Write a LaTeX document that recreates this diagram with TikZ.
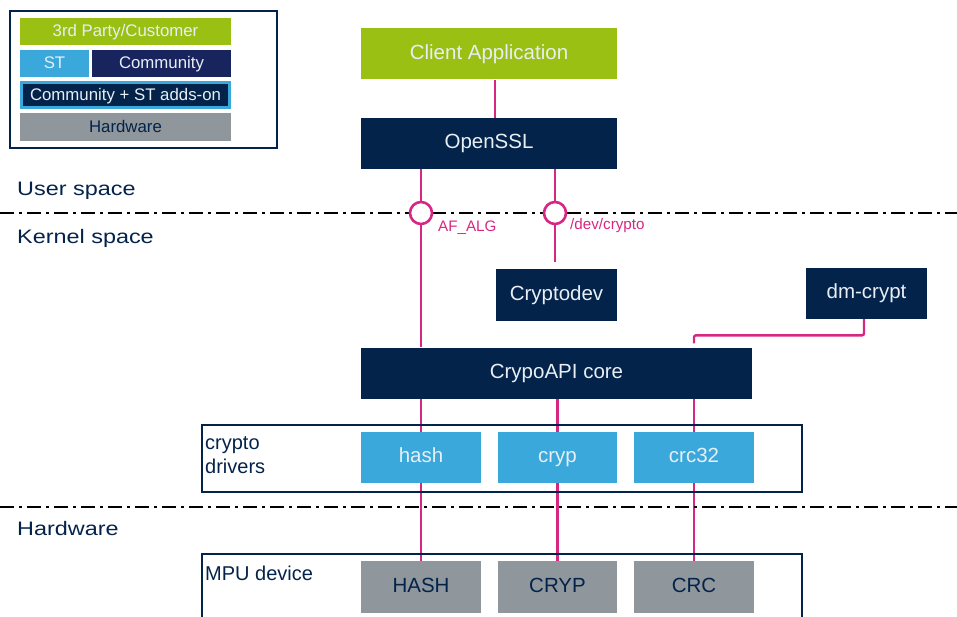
\documentclass[tikz,border=0pt]{standalone}
\usepackage{fontspec}
\setmainfont{Liberation Sans}
\newfontfamily\widesans[FakeStretch=1.2]{Liberation Sans}
\usetikzlibrary{backgrounds}
\definecolor{stnavy}{RGB}{3,35,75}
\definecolor{stcomm}{RGB}{24,36,94}
\definecolor{stgreen}{RGB}{155,192,20}
\definecolor{stblue}{RGB}{58,168,219}
\definecolor{stgrey}{RGB}{143,150,156}
\definecolor{stpink}{RGB}{214,40,130}
\definecolor{boxtext}{RGB}{232,238,244}
\newcommand{\fsz}[1]{\fontsize{#1}{#1}\selectfont}
\newcommand{\sepline}[1]{\draw[sep] (0,#1) --++ (957,0)}

\begin{document}
\begin{tikzpicture}[x=1pt, y=-1pt,
	blk/.style = {fill=stnavy, text=boxtext, inner sep=0pt, minimum height=51pt, text height=15pt, text depth=4.5pt, font=\fsz{20.5}},
	grn/.style = {blk, fill=stgreen},
	drv/.style = {blk, fill=stblue},
	hw/.style = {blk, fill=stgrey, text=stnavy, minimum height=52pt},
	leg/.style = {inner sep=0pt, minimum height=27pt, text height=12pt, text depth=1pt, text=boxtext, font=\fsz{16.8}},
	frame/.style = {draw=stnavy, line width=1.3pt},
	frmlbl/.style = {font=\fsz{20}, align=left, inner sep=0pt, anchor=north west, text=stnavy},
	link/.style = {draw=stpink, line width=2.4pt},
	port/.style = {circle, draw=stpink, line width=2.6pt, fill=white, minimum size=22pt, inner sep=0pt},
	portlbl/.style = {text=stpink, font=\fsz{15.2}, inner sep=0pt, anchor=west},
	zone/.style = {font=\widesans\fsz{19.5}, text=stnavy, inner sep=0pt, anchor=west},
	sep/.style = {line width=1.4pt, dash pattern=on 14pt off 5pt on 3pt off 5pt}]
\useasboundingbox (0,0) rectangle (957,617);
%Legend
	\draw[frame, line width=2pt] (10,11) rectangle (277,148);
	\node[leg, fill=stgreen, minimum width=211pt] (lthird) at (125.5,31.5) {3rd Party/Customer};
	\node[leg, fill=stblue, minimum width=69pt] (lst) at (54.5,63.5) {ST};
	\node[leg, fill=stcomm, minimum width=139pt] (lcomm) at (161.5,63.5) {Community};
	\node[leg, fill=stnavy, draw=stblue, line width=3pt, minimum width=208pt, minimum height=25pt] (ladds) at (125.5,95) {Community + ST adds-on};
	\node[leg, fill=stgrey, text=stnavy, minimum width=211pt, minimum height=28pt] (lhw) at (125.5,127) {Hardware};
%Zones
	\sepline{213};
	\sepline{507};
	\node[zone] at (17,191) {User space};
	\node[zone] at (17,238) {Kernel space};
	\node[zone] at (17,529) {Hardware};
%User side
	\node[grn, minimum width=256pt] (client) at (489,54) {Client Application};
	\node[blk, minimum width=256pt] (openssl) at (489,143.5) {OpenSSL};
%Kernel side
	\node[blk, minimum width=121pt] (cryptodev) at (556.5,295) {Cryptodev};
	\node[blk, minimum width=121pt] (dmcrypt) at (866.5,293.5) {dm-crypt};
	\node[blk, minimum width=391pt] (core) at (556.5,373) {CrypoAPI core};
%Drivers
	\draw[frame] (202,425) rectangle (802,492);
	\node[frmlbl] at (205,436) {crypto\\[4pt]drivers};
	\node[drv, minimum width=120pt] (hash) at (421,457.5) {hash};
	\node[drv, minimum width=119pt] (cryp) at (557.5,457.5) {cryp};
	\node[drv, minimum width=120pt] (crc) at (694,457.5) {crc32};
%Hardware
	\draw[frame] (202,630) |- (802,554) -- (802,630);
	\node[frmlbl] at (205,566) {MPU device};
	\node[hw, minimum width=120pt] (HASH) at (421,587) {HASH};
	\node[hw, minimum width=119pt] (CRYP) at (557.5,587) {CRYP};
	\node[hw, minimum width=120pt] (CRC) at (694,587) {CRC};
%Ports
	\node[port] (afalg) at (421,213) {};
	\node[port] (devcrypto) at (555,213) {};
	\node[portlbl] at (438,228) {AF\_ALG};
	\node[portlbl] at (570,226) {/dev/crypto};
%Links
	\begin{scope}[on background layer]
	\draw[link] ([xshift=6pt]client.south) -- ([xshift=6pt]openssl.north);
	\draw[link] (openssl.south -| afalg) -- (afalg) -- (core.north -| afalg);
	\draw[link] (openssl.south -| devcrypto) -- (devcrypto);
	\draw[link, shorten >=7pt] (devcrypto) -- (cryptodev.north -| devcrypto);
	\draw[link, rounded corners=2pt, shorten >=4pt] ([xshift=-2.5pt]dmcrypt.south) |- ([yshift=12pt]core.north -| crc) -- (core.north -| crc);
	\draw[link] (core.south -| hash) -- (HASH);
	\draw[link] (core.south -| cryp) -- (CRYP);
	\draw[link] (core.south -| crc) -- (CRC);
	\end{scope}
\end{tikzpicture}
\end{document}
